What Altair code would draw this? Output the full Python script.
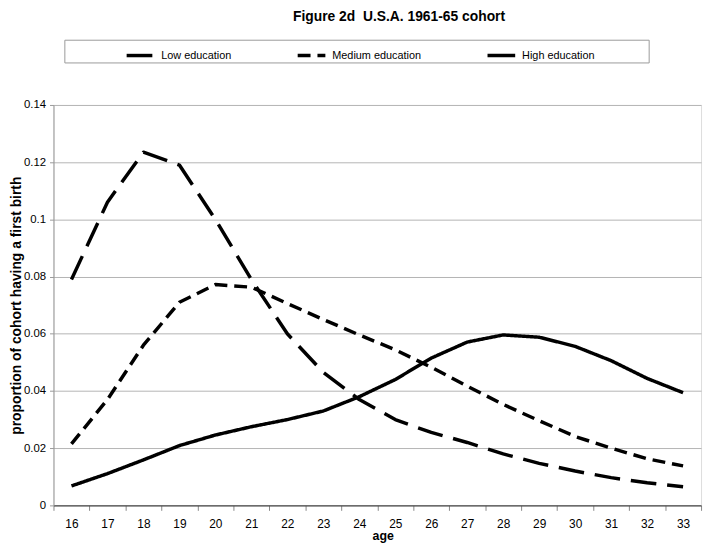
import altair as alt
import pandas as pd

ages = list(range(16, 34))
series_names = ["Low education", "Medium education", "High education"]
low = [0.079, 0.106, 0.1235, 0.119, 0.100, 0.079, 0.060, 0.0465, 0.037, 0.030,
       0.0255, 0.022, 0.018, 0.0147, 0.012, 0.0097, 0.0079, 0.0065]
medium = [0.0215, 0.037, 0.056, 0.071, 0.0772, 0.0763, 0.0706, 0.065, 0.0596, 0.0544,
          0.0483, 0.0417, 0.0353, 0.0296, 0.0241, 0.0200, 0.0163, 0.0138]
high = [0.0068, 0.0111, 0.0159, 0.0209, 0.0246, 0.0275, 0.0300, 0.033, 0.038, 0.044,
        0.0515, 0.0571, 0.0596, 0.0588, 0.0556, 0.0506, 0.0444, 0.0394]
y_ticks = [0, 0.02, 0.04, 0.06, 0.08, 0.10, 0.12, 0.14]

rows = []
for name, vals in zip(series_names, [low, medium, high]):
    for a, v in zip(ages, vals):
        rows.append({"age": a, "value": v, "series": name})
df = pd.DataFrame(rows)

FONT = "Liberation Sans"

chart = alt.Chart(df).mark_line(
    strokeWidth=3.5, color="black", strokeCap="butt", strokeJoin="round"
).encode(
    x=alt.X(
        "age:O",
        bandPosition=0.5,
        scale=alt.Scale(type="band", paddingInner=0, paddingOuter=0),
        axis=alt.Axis(
            title="age", labelAngle=0, tickBand="extent", tickSize=5,
            tickColor="#888888", domainColor="#333333", grid=False,
            labelFont=FONT, labelFontSize=12, labelColor="black", labelPadding=8,
            titleFont=FONT, titleFontSize=12.5, titleFontWeight="bold",
            titleColor="black", titlePadding=1, titleX=333,
        ),
    ),
    y=alt.Y(
        "value:Q",
        scale=alt.Scale(domain=[0, 0.14], nice=False, zero=True),
        axis=alt.Axis(
            values=y_ticks, format="~g", title="proportion of cohort having a first birth",
            tickSize=4, tickColor="#999999", domainColor="#999999",
            grid=True, gridColor="#b4b4b4", gridWidth=1,
            labelFont=FONT, labelFontSize=11.5, labelColor="black", labelPadding=4,
            titleFont=FONT, titleFontSize=14, titleFontWeight="bold",
            titleColor="black", titleX=-37.5, titleBaseline="middle",
        ),
    ),
    strokeDash=alt.StrokeDash(
        "series:N",
        scale=alt.Scale(domain=series_names, range=[[26, 11], [13, 7], [1, 0]]),
        legend=alt.Legend(
            title=" ", titleOrient="right", titlePadding=55, titleFontSize=11,
            orient="none", legendX=11, legendY=-66, direction="horizontal", columns=3,
            symbolType="stroke", symbolSize=784, symbolStrokeWidth=3.5,
            symbolStrokeColor="black", symbolOffset=61,
            labelFont=FONT, labelFontSize=11, labelColor="black", labelOffset=5,
            labelLimit=400, columnPadding=4,
            strokeColor="#9a9a9a", padding=0,
        ),
    ),
).properties(
    width=655,
    height=405,
    title=alt.TitleParams(
        text="Figure 2d\u00a0 U.S.A. 1961-65 cohort", font=FONT, fontSize=14,
        fontWeight="bold", color="black", anchor="middle", frame="group",
        dx=22, offset=15,
    ),
    autosize=alt.AutoSizeParams(type="none"),
    padding={"left": 46, "top": 95, "right": 6, "bottom": 38},
).configure_view(
    stroke="#a0a0a0", strokeWidth=1
).configure(background="white")

chart.save("out.html", embed_options={"renderer": "svg", "actions": False})
